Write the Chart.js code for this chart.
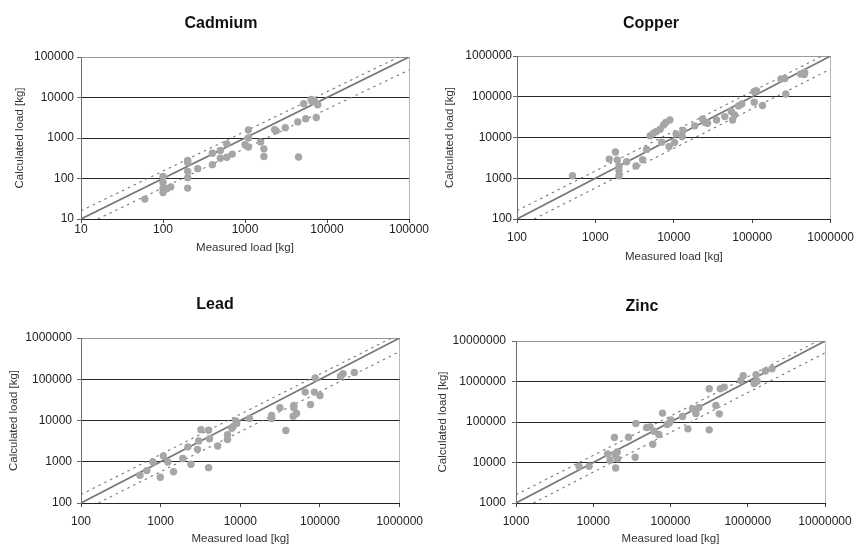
<!DOCTYPE html>
<html>
<head>
<meta charset="utf-8">
<title>Measured vs calculated load</title>
<script src="https://cdn.jsdelivr.net/npm/chart.js@4.4.1/dist/chart.umd.min.js"></script>
<style>
	html, body { margin: 0; padding: 0; background: #fff; overflow: hidden; }
	canvas { position: absolute; }
</style>
</head>
<body>
<canvas id="cadmiumChart"></canvas>
<canvas id="copperChart"></canvas>
<canvas id="leadChart"></canvas>
<canvas id="zincChart"></canvas>
<script>
// ---- data (kg) ----
var cadmiumMeasured   = [60, 100, 100, 100, 100, 111, 124, 200, 200, 200, 200, 200, 265, 400, 400, 500, 500, 600, 600, 700, 1000, 1100, 1100, 1100, 1550, 1700, 1700, 2300, 2400, 3100, 4400, 4500, 5200, 5500, 6400, 6600, 7400, 7700, 7000];
var cadmiumCalculated = [31, 112, 80, 58, 45, 56, 62, 280, 250, 150, 105, 58, 175, 420, 220, 490, 315, 710, 335, 400, 680, 600, 1580, 1000, 800, 540, 350, 1600, 1500, 1800, 2500, 340, 7000, 3000, 9000, 8000, 3200, 6600, 8500];

var copperMeasured   = [510, 1500, 1800, 1900, 2000, 2000, 2000, 2500, 3300, 4000, 4500, 5000, 5500, 6000, 6700, 7400, 7900, 8900, 7000, 8700, 10200, 10700, 12800, 13100, 18500, 23300, 25100, 26900, 35100, 44700, 54100, 56200, 59600, 66800, 73500, 106000, 113000, 106000, 135000, 233000, 260000, 268000, 414000, 460000, 467000];
var copperCalculated = [1150, 2950, 4400, 2800, 2000, 1550, 1150, 2550, 2000, 2850, 5100, 11000, 12800, 14000, 16000, 20400, 23300, 26900, 7700, 6030, 7550, 12300, 10600, 14800, 19300, 28600, 23300, 22400, 26900, 32600, 43400, 26900, 35900, 59700, 66700, 134000, 141000, 73000, 60800, 273000, 280000, 117000, 363000, 350000, 390000];

var leadMeasured   = [550, 670, 800, 990, 1080, 1230, 1450, 1900, 2200, 2400, 2900, 3000, 3200, 4000, 4100, 4000, 5200, 6900, 6900, 7800, 8100, 8800, 9000, 13000, 24700, 24700, 31400, 37300, 46100, 47000, 47000, 50800, 65200, 76000, 87000, 85000, 100000, 181000, 195000, 270000];
var leadCalculated = [470, 610, 990, 420, 1390, 990, 570, 1200, 2300, 870, 2000, 3200, 6000, 5800, 3600, 720, 2400, 4500, 3450, 6500, 7100, 9800, 8500, 11200, 13200, 11200, 20300, 5700, 12700, 23100, 20300, 14800, 48800, 24500, 107000, 48800, 40500, 119000, 136000, 146000];

var zincMeasured   = [6550, 8830, 15300, 16500, 18800, 19200, 19500, 20400, 20700, 28600, 34900, 35600, 49300, 54500, 59000, 61400, 70600, 78800, 90500, 97000, 101000, 143000, 168000, 193000, 213000, 233000, 317000, 317000, 387000, 428000, 441000, 496000, 815000, 874000, 1210000, 1280000, 1320000, 1690000, 2060000];
var zincCalculated = [8070, 8070, 16300, 11400, 41400, 15700, 7340, 18200, 12300, 42200, 13500, 91900, 73100, 75900, 28300, 59300, 49100, 166000, 86700, 95300, 113000, 137000, 67800, 212000, 162000, 229000, 661000, 64000, 256000, 159000, 661000, 728000, 1060000, 1390000, 898000, 1470000, 1020000, 1810000, 2070000];

// axis ticks (same decades on both axes)
var cadmiumTicks = [10, 100, 1000, 10000, 100000];
var copperTicks  = [100, 1000, 10000, 100000, 1000000];
var leadTicks    = [100, 1000, 10000, 100000, 1000000];
var zincTicks    = [1000, 10000, 100000, 1000000, 10000000];

// dashed band lines (end points)
var cadmiumUpperX = [10, 75000],     cadmiumUpperY = [16, 100000];
var cadmiumLowerX = [16, 100000],    cadmiumLowerY = [10, 48000];
var copperUpperX  = [100, 780000],   copperUpperY  = [160, 1000000];
var copperLowerX  = [165, 1000000],  copperLowerY  = [100, 480000];
var leadUpperX    = [100, 790000],   leadUpperY    = [160, 1000000];
var leadLowerX    = [165, 1000000],  leadLowerY    = [100, 470000];
var zincUpperX    = [1000, 8100000], zincUpperY    = [1600, 10000000];
var zincLowerX    = [1680, 10000000],zincLowerY    = [1000, 5100000];

var FONT = "'Liberation Sans', Arial, sans-serif";
var AXIS_TITLE_SIZE = 11.5;
var AXIS_TITLE_LH = AXIS_TITLE_SIZE * 1.2;

// panel placement : canvas box, chart area, text offsets
var _panels = [
	{ id: 'cadmiumChart', name: 'Cadmium', measured: cadmiumMeasured, calculated: cadmiumCalculated, ticks: cadmiumTicks,
	  upperX: cadmiumUpperX, upperY: cadmiumUpperY, lowerX: cadmiumLowerX, lowerY: cadmiumLowerY,
	  box: { left: 0, top: 0, width: 440, height: 255 }, area: { l: 81, r: 409, t: 57, b: 219 },
	  titleX: 221, titleY: 24, yTitleX: 20, xPad: -1, yPad: 3 },
	{ id: 'copperChart', name: 'Copper', measured: copperMeasured, calculated: copperCalculated, ticks: copperTicks,
	  upperX: copperUpperX, upperY: copperUpperY, lowerX: copperLowerX, lowerY: copperLowerY,
	  box: { left: 440, top: 0, width: 421, height: 264 }, area: { l: 517, r: 837, t: 56, b: 219 },
	  titleX: 651, titleY: 24, yTitleX: 450, xPad: 7, yPad: 1 },
	{ id: 'leadChart', name: 'Lead', measured: leadMeasured, calculated: leadCalculated, ticks: leadTicks,
	  upperX: leadUpperX, upperY: leadUpperY, lowerX: leadLowerX, lowerY: leadLowerY,
	  box: { left: 0, top: 273, width: 430, height: 273 }, area: { l: 81, r: 400, t: 338, b: 503 },
	  titleX: 215, titleY: 305, yTitleX: 14, xPad: 7, yPad: 5 },
	{ id: 'zincChart', name: 'Zinc', measured: zincMeasured, calculated: zincCalculated, ticks: zincTicks,
	  upperX: zincUpperX, upperY: zincUpperY, lowerX: zincLowerX, lowerY: zincLowerY,
	  box: { left: 430, top: 273, width: 431, height: 273 }, area: { l: 516, r: 825, t: 341, b: 503 },
	  titleX: 642, titleY: 307, yTitleX: 443, xPad: 7, yPad: 6 }
];

// panel heading, placed on its own (the built-in title centres on the padded box)
var panelTitlePlugin = {
	id: 'panelTitle',
	afterDraw: function (chart, args, opts) {
		var ctx = chart.ctx;
		ctx.save();
		ctx.font = 'bold 16px ' + FONT;
		ctx.fillStyle = '#111';
		ctx.textAlign = 'center';
		ctx.textBaseline = 'middle';
		ctx.fillText(opts.text, opts.x, opts.y);
		ctx.restore();
	}
};

function toPoints(xs, ys) {
	return xs.map(function (x, i) { return { x: x, y: ys[i] }; });
}

function createPanel(p) {
	var box = p.box, area = p.area;
	var canvas = document.getElementById(p.id);
	canvas.width = box.width;
	canvas.height = box.height;
	canvas.style.left = box.left + 'px';
	canvas.style.top = box.top + 'px';

	var min = p.ticks[0];
	var max = p.ticks[p.ticks.length - 1];

	var padLeft = p.yTitleX - box.left - AXIS_TITLE_LH / 2;
	var padRight = box.left + box.width - area.r;
	var padTop = area.t - box.top;
	var yWidth = area.l - box.left - padLeft;
	var xHeight = box.top + box.height - area.b;

	var decadeTicks = function (scale) {
		scale.ticks = p.ticks.map(function (v) { return { value: v }; });
	};
	var tickLabel = function (value) { return String(value); };

	var config = {
		type: 'scatter',
		data: {
			datasets: [
				{ // measured vs calculated
					data: toPoints(p.measured, p.calculated),
					pointRadius: 3.7,
					pointBackgroundColor: '#a6a6a6',
					pointBorderWidth: 0,
					showLine: false
				},
				{ // 1:1
					data: toPoints([min, max], [min, max]),
					showLine: true,
					borderColor: '#777',
					borderWidth: 1.7,
					pointRadius: 0
				},
				{
					data: toPoints(p.upperX, p.upperY),
					showLine: true,
					borderColor: '#777',
					borderWidth: 1.1,
					borderDash: [2.5, 4],
					pointRadius: 0
				},
				{
					data: toPoints(p.lowerX, p.lowerY),
					showLine: true,
					borderColor: '#777',
					borderWidth: 1.1,
					borderDash: [2.5, 4],
					pointRadius: 0
				}
			]
		},
		options: {
			responsive: false,
			animation: false,
			devicePixelRatio: 1,
			layout: { padding: { left: padLeft, right: padRight, top: padTop, bottom: 0 } },
			plugins: {
				legend: { display: false },
				tooltip: { enabled: false },
				title: { display: false },
				panelTitle: { text: p.name, x: p.titleX - box.left, y: p.titleY - box.top }
			},
			scales: {
				x: {
					type: 'logarithmic',
					min: min,
					max: max,
					afterBuildTicks: decadeTicks,
					afterFit: function (scale) { scale.height = xHeight; },
					ticks: {
						callback: tickLabel,
						autoSkip: false,
						maxRotation: 0,
						padding: p.xPad,
						color: '#222',
						font: { family: FONT, size: 12, lineHeight: 1.2 }
					},
					grid: {
						drawOnChartArea: true,
						color: function (ctx) {
							return ctx.tick && ctx.tick.value === max ? '#b8b8b8' : 'rgba(0,0,0,0)';
						},
						tickColor: '#444',
						tickLength: 4
					},
					border: { color: '#222', width: 1 },
					title: {
						display: true,
						text: 'Measured load [kg]',
						color: '#333',
						font: { family: FONT, size: AXIS_TITLE_SIZE, lineHeight: 1.2 },
						padding: 0
					}
				},
				y: {
					type: 'logarithmic',
					min: min,
					max: max,
					afterBuildTicks: decadeTicks,
					afterFit: function (scale) { scale.width = yWidth; },
					ticks: {
						callback: tickLabel,
						autoSkip: false,
						padding: p.yPad,
						color: '#222',
						font: { family: FONT, size: 12, lineHeight: 1.2 }
					},
					grid: {
						color: function (ctx) {
							return ctx.tick && ctx.tick.value === max ? '#999' : '#262626';
						},
						tickColor: '#666',
						tickLength: 4
					},
					border: { color: '#6e6e6e', width: 1 },
					title: {
						display: true,
						text: 'Calculated load [kg]',
						color: '#333',
						font: { family: FONT, size: AXIS_TITLE_SIZE, lineHeight: 1.2 },
						padding: 0
					}
				}
			}
		},
		plugins: [panelTitlePlugin]
	};

	return new Chart(canvas, config);
}

var _charts = _panels.map(createPanel);
</script>
</body>
</html>
